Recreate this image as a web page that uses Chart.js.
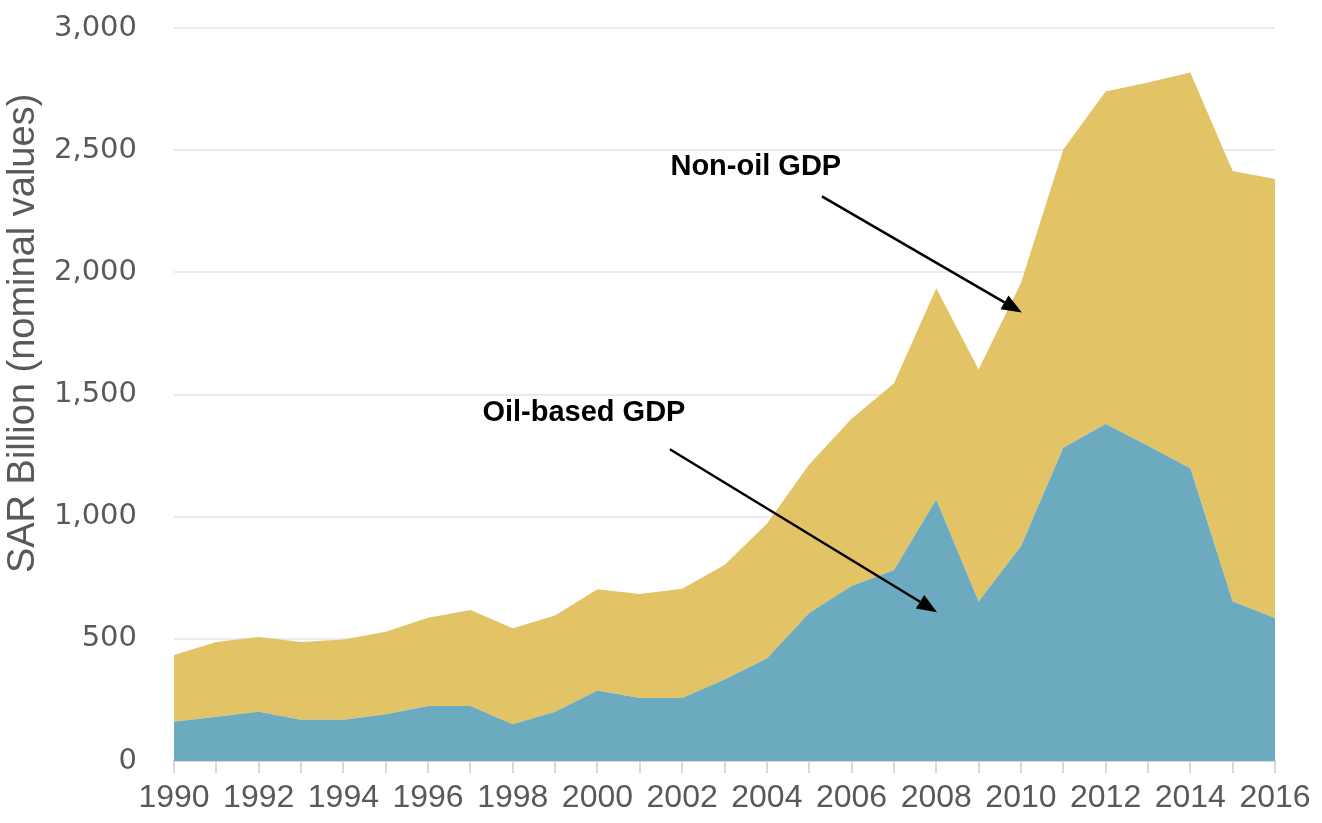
<!DOCTYPE html>
<html>
<head>
<meta charset="utf-8">
<script src="https://cdn.jsdelivr.net/npm/chart.js@4.4.1/dist/chart.umd.min.js"></script>
<style>
  html, body { margin: 0; padding: 0; background: #ffffff; }
  #wrap { width: 1322px; height: 823px; }
</style>
</head>
<body>
<div id="wrap"><canvas id="graficaPib"></canvas></div>
<script>
var anios = ["1990","1991","1992","1993","1994","1995","1996","1997","1998","1999",
             "2000","2001","2002","2003","2004","2005","2006","2007","2008","2009",
             "2010","2011","2012","2013","2014","2015","2016"];

// SAR billion, nominal
var pibPetrolero = [161,181,202,169,169,191,225,225,150,202,
                    289,258,258,334,420,606,716,781,1070,653,
                    879,1282,1379,1290,1198,653,585];
var pibNoPetrolero = [273,306,305,318,328,338,361,393,393,394,
                      414,425,447,468,551,607,685,764,865,949,
                      1077,1221,1361,1487,1620,1762,1797];

var ticksY = [0,500,1000,1500,2000,2500,3000];
var tituloY = "SAR Billion (nominal values)";

// annotation anchors, in axis units (x = year index, y = SAR bn)
var notas = [
    {texto:"Non-oil GDP", x:13.74, y:2430, desde:[15.3,2311], hasta:[20.02,1836]},
    {texto:"Oil-based GDP", x:9.68, y:1423, desde:[11.71,1276], hasta:[18.02,609]}
];

var anotaciones = {
    id: "anotaciones",
    afterDatasetsDraw: function(chart){
        var ctx = chart.ctx;
        var sx = chart.scales.x, sy = chart.scales.y;
        ctx.save();
        notas.forEach(function(n){
            ctx.font = "bold 29px 'Liberation Sans', Arial, sans-serif";
            ctx.fillStyle = "#000000";
            ctx.textAlign = "center";
            ctx.textBaseline = "middle";
            ctx.fillText(n.texto, sx.getPixelForValue(n.x), sy.getPixelForValue(n.y));

            var x1 = sx.getPixelForValue(n.desde[0]), y1 = sy.getPixelForValue(n.desde[1]);
            var x2 = sx.getPixelForValue(n.hasta[0]), y2 = sy.getPixelForValue(n.hasta[1]);
            var ang = Math.atan2(y2 - y1, x2 - x1);
            var largo = 20, ancho = 8;
            var bx = x2 - largo * Math.cos(ang), by = y2 - largo * Math.sin(ang);
            ctx.strokeStyle = "#000000";
            ctx.lineWidth = 2.5;
            ctx.beginPath();
            ctx.moveTo(x1, y1);
            ctx.lineTo(bx, by);
            ctx.stroke();
            ctx.beginPath();
            ctx.moveTo(x2, y2);
            ctx.lineTo(bx + ancho * Math.sin(ang), by - ancho * Math.cos(ang));
            ctx.lineTo(bx - ancho * Math.sin(ang), by + ancho * Math.cos(ang));
            ctx.closePath();
            ctx.fill();
        });

        // y axis title, sits a bit above the middle of the axis like the original
        ctx.translate(24, sy.getPixelForValue(1750));
        ctx.rotate(-Math.PI / 2);
        ctx.font = "38px 'Liberation Sans Narrow', 'Liberation Sans', sans-serif";
        ctx.fillStyle = "#595959";
        ctx.textAlign = "center";
        ctx.textBaseline = "middle";
        ctx.fillText(tituloY, 0, 0);
        ctx.restore();
    }
};

function grafica(){
    var canva = document.getElementById("graficaPib").getContext("2d");
    new Chart(canva, {
        type: "line",
        data: {
            labels: anios,
            datasets: [{
                label: "Oil-based GDP",
                data: pibPetrolero,
                backgroundColor: "#6caac0",
                borderWidth: 0,
                pointRadius: 0,
                fill: "origin"
            },{
                label: "Non-oil GDP",
                data: pibNoPetrolero,
                backgroundColor: "#e2c366",
                borderWidth: 0,
                pointRadius: 0,
                fill: "-1"
            }]
        },
        options: {
            responsive: true,
            maintainAspectRatio: false,
            animation: false,
            layout: { padding: { top: 28, right: 47, left: 0, bottom: 0 } },
            plugins: {
                legend: { display: false },
                tooltip: { enabled: false }
            },
            scales: {
                x: {
                    offset: false,
                    grid: {
                        drawOnChartArea: false,
                        color: "#d9d9d9",
                        lineWidth: 2,
                        tickLength: 12
                    },
                    border: { color: "#d9d9d9", width: 2 },
                    ticks: {
                        autoSkip: false,
                        maxRotation: 0,
                        padding: 6,
                        color: "#595959",
                        font: { family: "'Liberation Sans Narrow', 'Liberation Sans', sans-serif", size: 32 },
                        callback: function(v, i){ return i % 2 === 0 ? anios[i] : ""; }
                    },
                    afterFit: function(s){ s.height = 62; }
                },
                y: {
                    stacked: true,
                    min: 0,
                    max: 3000,
                    afterBuildTicks: function(s){ s.ticks = ticksY.map(function(v){ return {value: v}; }); },
                    grid: { color: "#ebebeb", lineWidth: 2, tickLength: 37, tickColor: "rgba(0,0,0,0)" },
                    border: { display: false },
                    ticks: {
                        padding: 0,
                        color: "#595959",
                        font: { family: "'DejaVu Sans', sans-serif", size: 29 },
                        callback: function(v){ return v.toLocaleString("en-US"); }
                    },
                    afterFit: function(s){ s.width = 174; }
                }
            }
        },
        plugins: [anotaciones]
    });
}

grafica();
</script>
</body>
</html>
